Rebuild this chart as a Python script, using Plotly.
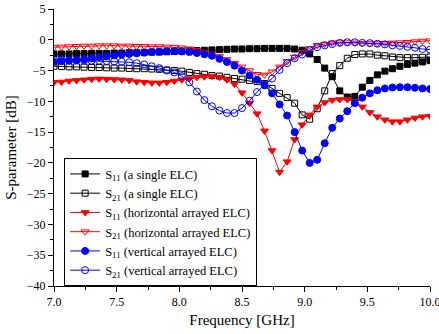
import plotly.graph_objects as go

freq = [round(7.0 + 0.06 * i, 2) for i in range(51)]

s11_single = [-2.3, -2.3, -2.3, -2.25, -2.25, -2.2, -2.2, -2.2, -2.15, -2.15,
              -2.1, -2.1, -2.05, -2.0, -2.0, -1.95, -1.9, -1.85, -1.8, -1.75,
              -1.7, -1.65, -1.6, -1.55, -1.5, -1.5, -1.45, -1.45, -1.4, -1.4,
              -1.4, -1.4, -1.5, -1.7, -2.3, -3.2, -4.6, -6.0, -8.3, -9.3,
              -9.2, -7.7, -6.6, -5.7, -5.1, -4.7, -4.3, -4.0, -3.8, -3.6, -3.4]

s21_single = [-4.3, -4.35, -4.4, -4.4, -4.45, -4.5, -4.5, -4.55, -4.6, -4.6,
              -4.65, -4.7, -4.7, -4.75, -4.8, -4.9, -5.0, -5.1, -5.3, -5.5,
              -5.6, -5.8, -5.9, -6.1, -6.3, -6.4, -6.6, -6.8, -7.1, -7.9,
              -8.7, -9.4, -10.3, -12.2, -12.9, -11.2, -8.3, -5.5, -4.2, -3.0,
              -2.4, -2.3, -2.3, -2.5, -2.6, -2.8, -2.9, -2.9, -2.9, -2.85, -2.8]

s11_horiz = [-6.9, -6.85, -6.7, -6.6, -6.5, -6.4, -6.35, -6.4, -6.45, -6.5,
             -6.6, -6.8, -6.9, -7.0, -7.0, -6.9, -6.7, -6.5, -6.3, -6.1,
             -6.0, -5.9, -6.1, -6.5, -7.2, -8.6, -10.3, -12.0, -14.8, -18.0,
             -21.5, -19.8, -16.2, -13.8, -12.2, -10.9, -10.2, -9.8, -9.7, -9.7,
             -10.0, -10.9, -11.8, -12.5, -13.0, -13.3, -13.3, -13.0, -12.7, -12.5, -12.4]

s21_horiz = [-1.2, -1.15, -1.1, -1.05, -1.0, -1.0, -0.95, -0.95, -0.95, -1.0,
             -1.0, -1.05, -1.05, -1.1, -1.1, -1.15, -1.2, -1.3, -1.45, -1.7,
             -2.0, -2.3, -2.7, -3.2, -3.8, -4.4, -5.0, -5.6, -5.7, -5.2,
             -4.4, -3.5, -2.8, -2.0, -1.4, -0.9, -0.7, -0.5, -0.45, -0.45,
             -0.5, -0.55, -0.6, -0.6, -0.55, -0.5, -0.45, -0.4, -0.3, -0.2, -0.15]

s11_vert = [-3.6, -3.5, -3.4, -3.3, -3.15, -3.0, -2.85, -2.7, -2.55, -2.4,
            -2.3, -2.2, -2.1, -2.0, -1.9, -1.85, -1.85, -1.9, -2.0, -2.15,
            -2.35, -2.6, -3.1, -3.6, -4.2, -5.0, -5.8, -6.5, -7.4, -8.7,
            -10.5, -12.3, -15.0, -18.0, -20.0, -19.5, -16.8, -14.3, -12.8, -11.6,
            -10.3, -9.4, -8.7, -8.2, -7.9, -7.75, -7.7, -7.7, -7.8, -7.9, -8.0]

s21_vert = [-3.2, -3.25, -3.3, -3.3, -3.35, -3.4, -3.4, -3.45, -3.5, -3.55,
            -3.65, -3.8, -4.0, -4.3, -4.6, -5.0, -5.3, -5.9, -6.9, -8.4,
            -9.8, -10.8, -11.5, -11.9, -11.9, -11.1, -9.9, -8.5, -7.3, -6.3,
            -4.9, -3.8, -3.0, -2.4, -1.7, -1.2, -0.9, -0.7, -0.5, -0.4,
            -0.4, -0.5, -0.55, -0.65, -0.75, -0.9, -1.0, -1.15, -1.3, -1.5, -1.6]

labels = [
    "S<sub>11</sub> (a single ELC)",
    "S<sub>21</sub> (a single ELC)",
    "S<sub>11</sub> (horizontal arrayed ELC)",
    "S<sub>21</sub> (horizontal arrayed ELC)",
    "S<sub>11</sub> (vertical arrayed ELC)",
    "S<sub>21</sub> (vertical arrayed ELC)",
]
series = [s11_single, s21_single, s11_horiz, s21_horiz, s11_vert, s21_vert]
colors = ["#000000", "#000000", "#ff0000", "#ff0000", "#0000ff", "#0000ff"]
symbols = ["square", "square-open", "triangle-down", "triangle-down-open", "circle", "circle-open"]
sizes = [6, 6, 7, 7, 7, 7]

fig = go.Figure()
for lab, ys, c, sym, sz in zip(labels, series, colors, symbols, sizes):
    fig.add_trace(go.Scatter(
        x=freq, y=ys, name=lab, mode="lines+markers",
        line=dict(color=c, width=1),
        marker=dict(symbol=sym, size=sz, color=c, line=dict(color=c, width=1)),
    ))

font = "Liberation Serif, Times New Roman, serif"
fig.update_layout(
    width=439, height=334,
    margin=dict(l=54, r=9, t=9, b=48, autoexpand=False),
    paper_bgcolor="white", plot_bgcolor="white",
    font=dict(family=font, size=12, color="black"),
    showlegend=True,
    legend=dict(
        x=0.027, y=0.461, xanchor="left", yanchor="top",
        bordercolor="black", borderwidth=1, bgcolor="white",
        font=dict(family=font, size=12.5, color="black"),
        tracegroupgap=0, itemwidth=30,
    ),
)
fig.update_xaxes(
    range=[7, 10], dtick=0.5, tick0=7, tickformat=".1f", automargin=False,
    showgrid=False, zeroline=False, showline=True, linecolor="black", linewidth=1,
    ticks="outside", ticklen=5, tickcolor="black", ticklabeloverflow="allow",
    minor=dict(dtick=0.25, ticks="outside", ticklen=3, tickcolor="black"),
    tickfont=dict(family=font, size=12),
    title=dict(text="Frequency [GHz]", font=dict(family=font, size=15), standoff=6),
)
fig.update_yaxes(
    range=[-40, 5], dtick=5, tick0=0, automargin=False,
    showgrid=False, zeroline=False, showline=True, linecolor="black", linewidth=1,
    ticks="outside", ticklen=5, tickcolor="black",
    minor=dict(dtick=2.5, ticks="outside", ticklen=3, tickcolor="black"),
    tickfont=dict(family=font, size=12),
    title=dict(text="S-parameter [dB]", font=dict(family=font, size=15), standoff=6),
)

fig.write_html("out.html")
